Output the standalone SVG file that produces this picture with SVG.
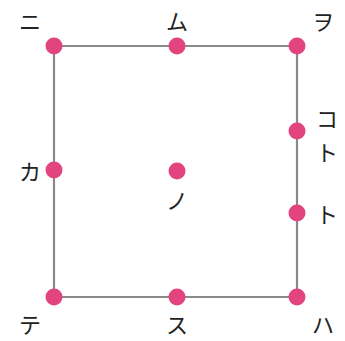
<svg xmlns="http://www.w3.org/2000/svg" width="345" height="341" viewBox="0 0 345 341">
<style>
.l{fill:none;stroke:#8a8a8a;stroke-width:2.2}
.d{fill:#e2457e}
.t{font-family:"Noto Sans CJK JP",sans-serif;font-size:22px;font-weight:400;fill:#222;text-anchor:middle;dominant-baseline:central}
</style>
<rect width="345" height="341" fill="#fff"/>
<g id="connectors">
<path class="l" d="M54 46H297V297H54Z"/>
</g>
<g id="ni"><circle class="d" cx="54" cy="46" r="8.5"/><text class="t" x="30" y="20">ニ</text></g>
<g id="mu"><circle class="d" cx="177" cy="46" r="8.5"/><text class="t" x="177" y="20">ム</text></g>
<g id="wo"><circle class="d" cx="297" cy="46" r="8.5"/><text class="t" x="323" y="20">ヲ</text></g>
<g id="kototo"><circle class="d" cx="297" cy="131" r="8.5"/><text class="t" x="327" y="117">コ</text><text class="t" x="327" y="151">ト</text></g>
<g id="to"><circle class="d" cx="297" cy="213" r="8.5"/><text class="t" x="327" y="213">ト</text></g>
<g id="ka"><circle class="d" cx="54" cy="170" r="8.5"/><text class="t" x="30" y="170">カ</text></g>
<g id="no"><circle class="d" cx="177" cy="171" r="8.5"/><text class="t" x="177" y="199">ノ</text></g>
<g id="te"><circle class="d" cx="54" cy="297" r="8.5"/><text class="t" x="30" y="323">テ</text></g>
<g id="su"><circle class="d" cx="177" cy="297" r="8.5"/><text class="t" x="177" y="323">ス</text></g>
<g id="ha"><circle class="d" cx="297" cy="297" r="8.5"/><text class="t" x="323" y="323">ハ</text></g>
</svg>
